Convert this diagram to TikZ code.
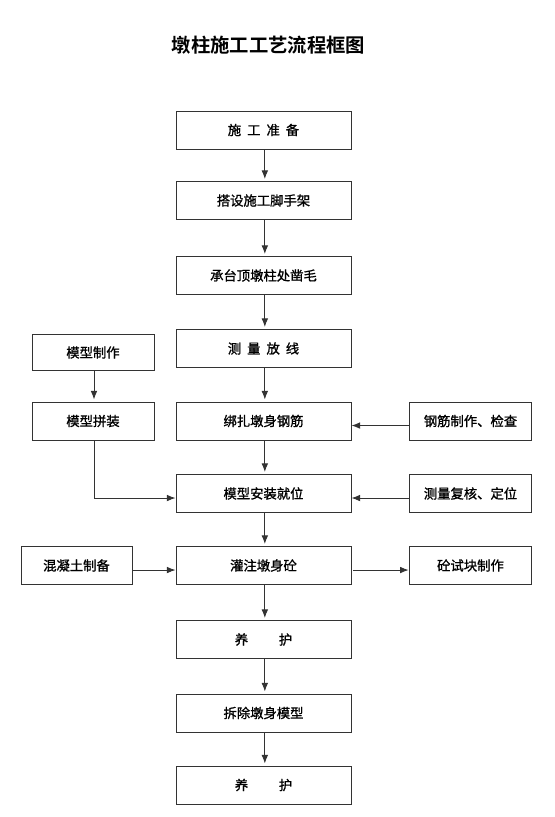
\documentclass[tikz,border=0pt]{standalone}
\usepackage{fontspec}
\newfontfamily\cjk[BoldFont={Noto Sans CJK SC Bold}]{Noto Sans CJK SC}
\newfontfamily\cjkbox[FakeBold=1.2]{Noto Sans CJK SC}
\usetikzlibrary{arrows.meta}
\begin{document}
\begin{tikzpicture}[x=0.75pt,y=-0.75pt,
  box/.style={draw=black!80, line width=0.7pt, rectangle, inner sep=0pt,
    minimum height=28.5pt, font=\cjkbox\fontsize{10}{12}\selectfont},
  mainbox/.style={box, minimum width=131.25pt},
  sidebox/.style={box, minimum width=92pt},
  conn/.style={draw=black!80, line width=0.7pt, -{Latex[length=6.5pt,width=5pt]}},
  plain/.style={draw=black!80, line width=0.7pt}]
\useasboundingbox (0,0) rectangle (554,817);
\node[font=\cjk\bfseries\fontsize{14.5}{16}\selectfont] (title) at (268.5,45) {墩柱施工工艺流程框图};
% main column
\node[mainbox] (b1) at (263.5,130) {施\hspace{4.5pt}工\hspace{4.5pt}准\hspace{4.5pt}备};
\node[mainbox] (b2) at (263.5,200.5) {搭设施工脚手架};
\node[mainbox] (b3) at (263.5,275.5) {承台顶墩柱处凿毛};
\node[mainbox] (b4) at (263.5,348.5) {测\hspace{4.5pt}量\hspace{4.5pt}放\hspace{4.5pt}线};
\node[mainbox] (b5) at (263.5,421) {绑扎墩身钢筋};
\node[mainbox] (b6) at (263.5,493.5) {模型安装就位};
\node[mainbox] (b7) at (263.5,565.5) {灌注墩身砼};
\node[mainbox] (b8) at (263.5,639.5) {养\hspace{23pt}护};
\node[mainbox] (b9) at (263.5,713) {拆除墩身模型};
\node[mainbox] (b10) at (263.5,785) {养\hspace{23pt}护};
% left
\node[sidebox, minimum width=91.5pt, minimum height=26.5pt] (mz) at (93,352.5) {模型制作};
\node[sidebox, minimum width=91.5pt] (mp) at (93,421) {模型拼装};
\node[sidebox, minimum width=83.25pt] (hnt) at (76.5,565.5) {混凝土制备};
% right
\node[sidebox] (gj) at (470.5,421) {钢筋制作、检查};
\node[sidebox] (cl) at (470.5,493.5) {测量复核、定位};
\node[sidebox] (sk) at (470.5,565.5) {砼试块制作};
% connectors
\foreach \a/\b in {b1/b2,b2/b3,b3/b4,b4/b5,b5/b6,b6/b7,b7/b8,b8/b9,b9/b10}
  \draw[conn] ([xshift=1pt]\a.south) -- ([xshift=1pt,yshift=1.5pt]\b.north);
\draw[conn] ([xshift=0.75pt]mz.south) -- ([xshift=0.75pt,yshift=1.5pt]mp.north);
\draw[conn] ([xshift=0.75pt]mp.south) |- ([yshift=-3.4pt]b6.west);
\draw[conn] ([yshift=-3.4pt]gj.west) -- ([yshift=-3.4pt]b5.east);
\draw[conn] ([yshift=-3.4pt]cl.west) -- ([yshift=-3.4pt]b6.east);
\draw[conn] ([yshift=-3.4pt]hnt.east) -- ([yshift=-3.4pt]b7.west);
\draw[conn] ([xshift=1.5pt,yshift=-3.4pt]b7.east) -- ([yshift=-3.4pt]sk.west);
\end{tikzpicture}
\end{document}
